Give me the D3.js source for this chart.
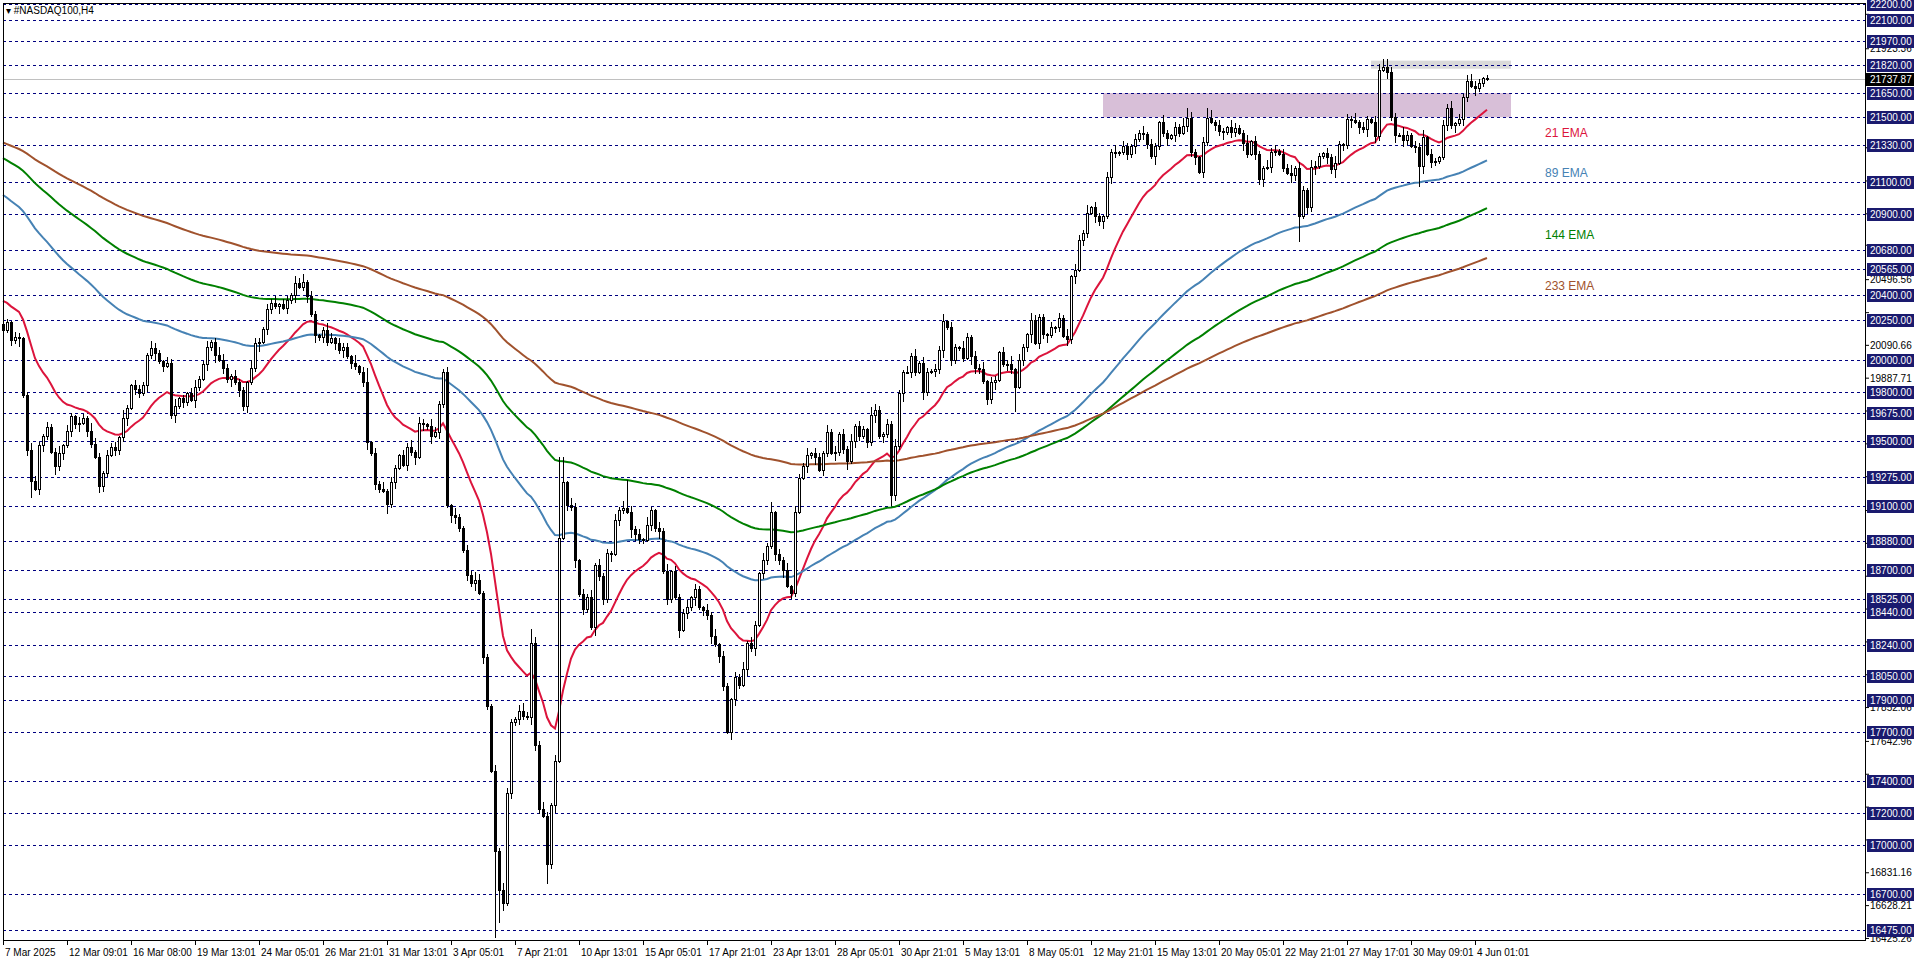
<!DOCTYPE html>
<html><head><meta charset="utf-8">
<script src="https://cdn.jsdelivr.net/npm/d3@7/dist/d3.min.js"></script>
<style>html,body{margin:0;padding:0;background:#fff;overflow:hidden}svg{display:block}text{font-family:"Liberation Sans",Arial,sans-serif}</style>
</head><body>
<script>
const closes=[20180,20230,20120,20140,20130,19780,19440,19250,19200,19470,
19530,19580,19430,19340,19420,19470,19560,19650,19600,19610,
19640,19560,19480,19400,19220,19300,19410,19460,19440,19520,
19640,19700,19840,19820,19790,19840,20030,20070,20040,19990,
19960,19980,19660,19710,19760,19740,19790,19750,19830,19880,
19970,20080,20110,20030,20000,19950,19880,19900,19860,19810,
19710,19860,19950,20100,20110,20190,20310,20350,20330,20340,
20320,20370,20400,20470,20450,20480,20390,20280,20150,20140,
20180,20110,20130,20100,20060,20080,20020,19980,19960,19920,
19860,19490,19420,19230,19200,19190,19110,19240,19330,19410,
19350,19460,19430,19400,19610,19600,19590,19530,19550,19725,
19920,19100,19040,19025,18960,18820,18670,18620,18640,18560,
18160,17860,17460,16960,16720,16640,17320,17760,17780,17830,
17800,17790,18250,17620,17220,17180,16880,17250,17520,18900,
19240,19100,19090,18760,18550,18460,18530,18344,18733,18660,
18520,18807,18800,19010,19070,19080,19060,18950,18920,18890,
18885,18980,19070,18960,18940,18690,18520,18690,18530,18330,
18435,18470,18530,18580,18470,18455,18420,18290,18240,18165,
17980,17700,17900,18035,17990,18085,18250,18220,18360,18680,
18760,18845,19055,18795,18760,18700,18600,18560,19060,19270,
19340,19410,19420,19400,19320,19425,19550,19425,19430,19540,
19445,19370,19495,19590,19525,19570,19490,19660,19690,19525,
19540,19600,19165,19465,19790,19925,19925,20020,19925,19980,
19800,19925,19930,19940,20060,20235,20200,20000,20075,20070,
20010,20140,20020,19950,19940,19865,19755,19860,19875,20045,
19970,19975,19940,19830,20000,20075,20155,20245,20105,20260,
20155,20150,20200,20200,20255,20145,20125,20515,20555,20740,
20780,20908,20940,20885,20855,20885,21125,21280,21275,21280,
21320,21270,21320,21360,21400,21395,21330,21255,21320,21465,
21400,21370,21385,21435,21400,21445,21495,21280,21250,21160,
21345,21495,21470,21450,21410,21405,21435,21405,21430,21400,
21340,21270,21350,21270,21115,21185,21190,21285,21290,21270,
21185,21155,21140,21185,20885,21050,20940,21190,21195,21255,
21275,21250,21175,21215,21330,21325,21485,21480,21470,21435,
21425,21485,21470,21380,21790,21810,21775,21500,21390,21390,
21355,21390,21320,21315,21195,21375,21270,21220,21225,21250,
21450,21555,21450,21460,21485,21620,21720,21690,21680,21710,
21737,21738];
const firstOpen=20220;
const upperWicks="3213212432 1322413213 2143213231 4213221432 1324121342 2312432132 2143213241 3214321321 2431322141 3213241321 3241321432 2314213243 1213243213 4213242132 3142132413 2213241323 1421324132 2413213241 3213241321 4231324132 2413214231 3241321432 1324213241 3213241321 4213241321 3241321432 2131324132 2413213241 3213241321 4213241321 3241321432 2413214231 3241321432 1324213241 3213241321 4213241321 3241321432 13";
const lowerWicks="2132413213 3214231324 1321432132 2413213241 3124132142 1324132413 2312413214 1324123142 3213241321 2413214231 1324132413 2143213241 3213241323 2143213241 1324132142 3241321432 2132413214 1324132413 2143213241 3213241321 1324132142 2413213241 3213241321 4213241321 2143213241 1324132413 2413213241 3213241321 1324132142 2413213241 3213241321 4213241321 2143213241 1324132413 2413213241 3213241321 1324132142 21";
const highOverrides={0:20280,73:20520,75:20530,91:19950,110:19945,132:18340,139:19400,140:19400,156:19260,192:19120,198:19100,269:20770,296:21560,301:21560,344:21830,346:21860,366:21760,371:21760};
const lowOverrides={7:19150,24:19180,96:19050,123:16430,124:16520,136:16760,181:17690,222:19100,253:19680,314:21080,324:20730,354:21070};
const emaPeriods=[21,89,144,233];
const emaSeeds=[20365,21020,21248,21344];
const emaColors=["#dc143c","#4682b4","#008000","#a0522d"];
const emaLabels=["21 EMA","89 EMA","144 EMA","233 EMA"];
const emaLabelY=[133,173,235,286];
const levels=[22200,22100,21970,21820,21650,21500,21330,21100,20900,20680,20565,20400,20250,20000,19800,19675,19500,19275,19100,18880,18700,18525,18440,18240,18050,17900,17700,17400,17200,17000,16700,16475];
const axisTicks=[22136.31,21923.36,21710.41,21311.51,21106.46,20903.51,20709.51,20496.56,20292.61,20090.66,19887.71,19684.76,19481.81,19278.86,19069.76,18866.81,18663.86,18460.91,18257.96,18055.01,17852.06,17642.96,17440.01,17237.06,17034.11,16831.16,16628.21,16425.26];
const currentPrice=21737.87;
const dateLabels=["7 Mar 2025","12 Mar 09:01","16 Mar 08:00","19 Mar 13:01","24 Mar 05:01","26 Mar 21:01","31 Mar 13:01","3 Apr 05:01","7 Apr 21:01","10 Apr 13:01","15 Apr 05:01","17 Apr 21:01","23 Apr 13:01","28 Apr 05:01","30 Apr 21:01","5 May 13:01","8 May 05:01","12 May 21:01","15 May 13:01","20 May 05:01","22 May 21:01","27 May 17:01","30 May 09:01","4 Jun 01:01"];
const zonePurple={from:275,to:377,low:21500,high:21650};
const zoneGrey={from:342,to:377,low:21800,high:21850};

const W=1916,H=963,plotL=3,plotR=1865,plotT=3,plotB=940;
const svg=d3.select("body").append("svg").attr("width",W).attr("height",H);
const x=d3.scaleLinear().domain([0,371]).range([3,1487]);
const y=d3.scaleLinear().domain([16425,22200]).range([938.5,4]);
const up=upperWicks.replace(/ /g,''),lo=lowerWicks.replace(/ /g,'');
const bars=closes.map((c,i)=>{const o=i?closes[i-1]:firstOpen;
 let h=Math.max(o,c)+(+up[i]||1)*12, l=Math.min(o,c)-(+lo[i]||1)*12;
 if(highOverrides[i]!==undefined)h=highOverrides[i]; if(lowOverrides[i]!==undefined)l=lowOverrides[i];
 return {i,o,c,h,l};});

[zonePurple,zoneGrey].forEach((z,k)=>svg.append("rect").attr("x",x(z.from)).attr("width",x(z.to)-x(z.from))
 .attr("y",y(z.high)).attr("height",y(z.low)-y(z.high)).attr("fill",k?"#d9d9d9":"#d8bfd8"));

svg.append("g").selectAll("line").data(levels).join("line").attr("x1",plotL).attr("x2",plotR)
 .attr("y1",d=>Math.round(y(d))+0.5).attr("y2",d=>Math.round(y(d))+0.5).attr("stroke","#000080").attr("stroke-dasharray","3,3");
svg.append("line").attr("x1",plotL).attr("x2",plotR).attr("y1",Math.round(y(currentPrice))+0.5).attr("y2",Math.round(y(currentPrice))+0.5).attr("stroke","#c0c0c0");

emaPeriods.forEach((p,k)=>{const a=2/(p+1);let e=emaSeeds[k];const vals=closes.map((c,i)=>{if(i>0)e=e+a*(c-e);return e;});
 svg.append("path").datum(vals).attr("fill","none").attr("stroke",emaColors[k]).attr("stroke-width",2)
  .attr("d",d3.line().x((d,i)=>x(i)).y(d=>y(d)));
 svg.append("text").attr("x",1545).attr("y",emaLabelY[k]).attr("dy","0.35em").attr("fill",emaColors[k]).attr("font-size",12).text(emaLabels[k]);
});

const g=svg.append("g").attr("shape-rendering","crispEdges");
g.selectAll("line").data(bars).join("line").attr("x1",d=>Math.round(x(d.i))+0.5).attr("x2",d=>Math.round(x(d.i))+0.5)
 .attr("y1",d=>y(d.h)).attr("y2",d=>y(d.l)).attr("stroke","#000");
g.selectAll("rect").data(bars).join("rect").attr("x",d=>Math.round(x(d.i))-0.5).attr("width",2)
 .attr("y",d=>y(Math.max(d.o,d.c))).attr("height",d=>Math.max(1,Math.abs(y(d.o)-y(d.c))))
 .attr("fill",d=>d.c>=d.o?"#fff":"#000").attr("stroke","#000");

svg.append("rect").attr("x",plotL+0.5).attr("y",plotT+0.5).attr("width",plotR-plotL).attr("height",plotB-plotT).attr("fill","none").attr("stroke","#000").attr("shape-rendering","crispEdges");

const ax=svg.append("g");
const boxY=[...levels,currentPrice].map(v=>y(v));
axisTicks.forEach(t=>{const yy=y(t);ax.append("line").attr("x1",plotR).attr("x2",plotR+4).attr("y1",yy).attr("y2",yy).attr("stroke","#000");
 if(boxY.every(b=>Math.abs(b-yy)>7.5))
 ax.append("text").attr("x",1870).attr("y",yy).attr("dy","0.35em").attr("font-size",10).attr("fill","#000").text(t.toFixed(2));});
levels.forEach(l=>{const yy=Math.round(y(l));ax.append("rect").attr("x",1867).attr("y",yy-6).attr("width",47).attr("height",13).attr("fill","#1a1a6e");
 ax.append("text").attr("x",1870).attr("y",yy+0.5).attr("dy","0.35em").attr("font-size",10).attr("fill","#fff").text(l.toFixed(2));});
{const yy=Math.round(y(currentPrice));ax.append("rect").attr("x",1866).attr("y",yy-6).attr("width",48).attr("height",13).attr("fill","#000");
 ax.append("text").attr("x",1870).attr("y",yy+0.5).attr("dy","0.35em").attr("font-size",10).attr("fill","#fff").text(currentPrice.toFixed(2));}

dateLabels.forEach((d,k)=>{const xx=Math.round(x(k*16));
 svg.append("line").attr("x1",xx+0.5).attr("x2",xx+0.5).attr("y1",plotB).attr("y2",plotB+5).attr("stroke","#000");
 svg.append("text").attr("x",xx+2).attr("y",952).attr("dy","0.35em").attr("font-size",10).text(d);});

svg.append("text").attr("x",6).attr("y",10).attr("dy","0.35em").attr("font-size",10).text("▾ #NASDAQ100,H4");
</script>
</body></html>
